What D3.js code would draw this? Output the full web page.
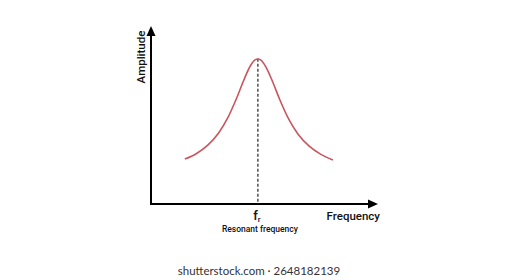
<!DOCTYPE html>
<meta charset="utf-8">
<head>
    <style>
        body {margin: 0; background: #fff;}
        text {font-family: Roboto, sans-serif; fill: #111;}
        .curve {fill: none; stroke: #c9555f; stroke-width: 1.6;}
        .axis {stroke: #000; stroke-width: 2;}
        .dash {stroke: #222; stroke-width: 1.2; stroke-dasharray: 3,2;}
    </style>
    <script src="https://d3js.org/d3.v7.min.js"></script>
</head>
<body>
<script>

    // frequency (arbitrary units, 0..100) and amplitude (0..100)
    var freq = [15, 20, 25, 30, 34, 38, 41, 44, 46, 47.3, 48.5, 51, 54, 57, 61, 65, 70, 75, 80.5],
        amp  = [25.4, 28.4, 33.1, 40.3, 48.8, 60.2, 69.8, 78.1, 81.4, 81.9, 81.4, 77.1, 68.5, 58.9, 47.8, 39.6, 32.7, 28.2, 24.9],
        resonance = 47.3,
        xLabel = "Frequency",
        yLabel = "Amplitude",
        markLabel = "Resonant frequency";

    var width = 517, height = 280;

    var x = d3.scaleLinear()
        .domain([0, 100])
        .range([151, 377]);

    var y = d3.scaleLinear()
        .domain([0, 100])
        .range([204, 27]);

    var svg = d3.select("body").append("svg")
        .attr("width", width)
        .attr("height", height)

    // axes
    svg.append("line").attr("class", "axis")
        .attr("x1", x(0)).attr("y1", y(0) + 1)
        .attr("x2", x(0)).attr("y2", y(100) + 6)
    svg.append("line").attr("class", "axis")
        .attr("x1", x(0) - 1).attr("y1", y(0))
        .attr("x2", x(100) - 6).attr("y2", y(0))

    svg.append("path")
        .attr("d", "M" + x(0) + "," + (y(100) - 1) + "l-4.5,10l9,0z")
        .attr("fill", "#000")
    svg.append("path")
        .attr("d", "M" + (x(100) + 1) + "," + y(0) + "l-10,-4.5l0,9z")
        .attr("fill", "#000")

    // resonance marker
    svg.append("line").attr("class", "dash")
        .attr("x1", x(resonance)).attr("y1", y(82))
        .attr("x2", x(resonance)).attr("y2", y(0))

    var line = d3.line()
        .x(function(d, i) {return x(freq[i])})
        .y(function(d) {return y(d)})
        .curve(d3.curveMonotoneX)

    svg.append("path")
        .datum(amp)
        .attr("class", "curve")
        .attr("d", line)

    // labels
    svg.append("text")
        .attr("x", x(100) + 3).attr("y", 220)
        .attr("text-anchor", "end")
        .style("font-size", "11.5px").style("font-weight", 500)
        .text(xLabel)

    svg.append("text")
        .attr("transform", "translate(145,57) rotate(-90)")
        .attr("text-anchor", "middle")
        .style("font-size", "11.5px").style("font-weight", 500)
        .text(yLabel)

    var fr = svg.append("text")
        .attr("x", x(resonance) - 1).attr("y", 220)
        .attr("text-anchor", "middle")
        .style("font-size", "13px").style("font-weight", 500)
    fr.append("tspan").text("f")
    fr.append("tspan").attr("dy", 2).style("font-size", "8px").text("r")

    svg.append("text")
        .attr("x", x(resonance) + 2).attr("y", 232)
        .attr("text-anchor", "middle")
        .style("font-size", "8.5px").style("font-weight", 500)
        .text(markLabel)

    svg.append("text")
        .attr("x", 259).attr("y", 275)
        .attr("text-anchor", "middle")
        .style("font-family", "Lato, sans-serif")
        .style("font-size", "11.5px").style("fill", "#333")
        .text("shutterstock.com · 2648182139")

</script>
</body>
